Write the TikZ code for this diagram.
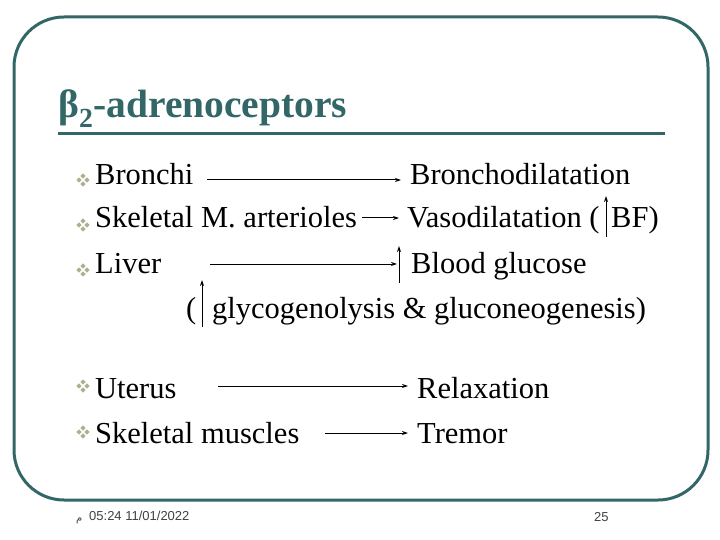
\documentclass[tikz,border=0pt]{standalone}
\usepackage{fontspec}
\usetikzlibrary{arrows.meta}
\setmainfont{Liberation Serif}
\newfontfamily\arialf{Liberation Sans}
\newfontfamily\arabicfont[Script=Arabic]{DejaVu Sans}
\TeXXeTstate=1
\definecolor{teal1}{HTML}{336666}
\definecolor{olive1}{HTML}{B0B090}
\begin{document}
\begin{tikzpicture}[x=1pt,y=-1pt,
  body/.style={anchor=base west,inner sep=0pt,font=\fontsize{30.5}{34}\selectfont},
  foot/.style={anchor=base west,inner sep=0pt,text=black!75,font=\arialf\fontsize{13}{15}\selectfont},
  arr/.style={-{Stealth[length=6pt,width=4pt]},line width=1pt}]
\useasboundingbox (0,0) rectangle (720,540);
\draw[teal1,line width=3pt,rounded corners=50pt] (14,17) rectangle (708,500);
\node[anchor=base west,inner sep=0pt,text=teal1,font=\fontsize{39.5}{44}\selectfont\bfseries] (title) at (58,118) {β\textsubscript{2}-adrenoceptors};
\draw[teal1,line width=3pt] (58,134) -- (665,134);
% bullets
\foreach \y/\n in {180/a,225/b,270/c,386/d,432/e}{
  \node[inner sep=0pt] (b\n) at (83,\y) {\tikz[x=1pt,y=1pt]{\foreach \dx/\dy in {0/4,0/-4,4/0,-4/0}{\fill[olive1] (\dx,\dy) +(0,2.6)--+(2.6,0)--+(0,-2.6)--+(-2.6,0)--cycle;}}};
}
\node[body] (l1) at (95,185) {Bronchi};
\node[body] (l2) at (95,228) {Skeletal M. arterioles};
\node[body] (l3) at (95,273) {Liver};
\node[body] (l4) at (95,398) {Uterus};
\node[body] (l5) at (95,443) {Skeletal muscles};
\node[body] (r1) at (410,185) {Bronchodilatation};
\node[body] (r2) at (407,228) {Vasodilatation (};
\node[body] (r2b) at (611,228) {BF)};
\node[body] (r3) at (411,273) {Blood glucose};
\node[body] (r3a) at (186,318) {(};
\node[body] (r3b) at (212,318) {glycogenolysis \& gluconeogenesis)};
\node[body] (r4) at (417,398) {Relaxation};
\node[body] (r5) at (417,443) {Tremor};
\coordinate (a1s) at (207,180); \coordinate (a1e) at (401,180);
\coordinate (a2s) at (362,218); \coordinate (a2e) at (399,218);
\coordinate (a3s) at (210,264); \coordinate (a3e) at (397,264);
\coordinate (a4s) at (218,386); \coordinate (a4e) at (408,386);
\coordinate (a5s) at (325,433); \coordinate (a5e) at (408,433);
\foreach \i in {1,...,5}{\draw[arr] (a\i s) -- (a\i e);}
\coordinate (u1s) at (606,237); \coordinate (u1e) at (606,196);
\coordinate (u2s) at (399,283); \coordinate (u2e) at (399,246);
\coordinate (u3s) at (202,327); \coordinate (u3e) at (202,280);
\foreach \i in {1,2,3}{\draw[arr] (u\i s) -- (u\i e);}
\node[foot,font=\arabicfont\fontsize{10}{12}\selectfont] (pm) at (76,521) {\beginR م\endR};
\node[foot] (date) at (89,520) {05:24 11/01/2022};
\node[foot] (pg) at (594,521) {25};
\end{tikzpicture}
\end{document}
